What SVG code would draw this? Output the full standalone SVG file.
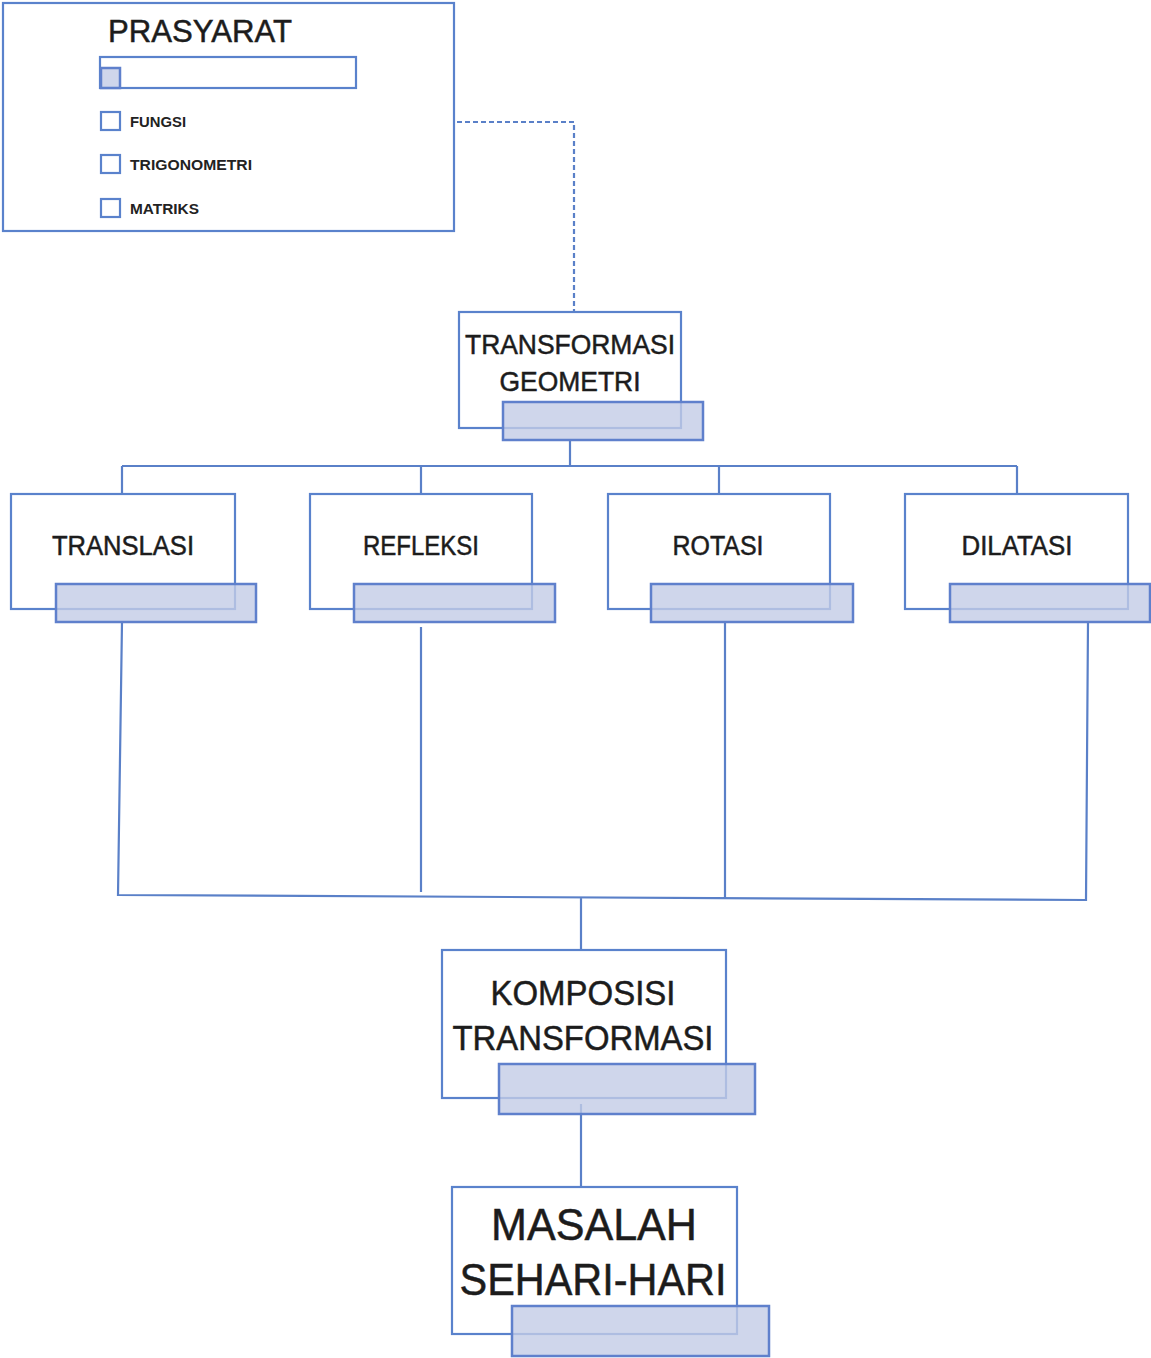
<svg xmlns="http://www.w3.org/2000/svg" width="1151" height="1358" viewBox="0 0 1151 1358">
<style>
.box{fill:#fff;stroke:#5a82cc;stroke-width:2.2}
.ov{fill:#c3cce6;fill-opacity:0.8;stroke:#5f80cc;stroke-width:2.5}
.cb{fill:#fff;stroke:#5a82cc;stroke-width:2.2}
.ln{fill:none;stroke:#5a80c8;stroke-width:2.2}
.t{font-family:"Liberation Sans",Arial,sans-serif;fill:#1c1c1c;text-anchor:middle;stroke:#1c1c1c;stroke-width:0.5}
.s{font-family:"Liberation Sans",Arial,sans-serif;font-weight:bold;fill:#222;font-size:14px}
</style>
<rect width="1151" height="1358" fill="#fff"/>
<g id="connectors">
<path class="ln" d="M457,122 H574 V312" stroke="#3d5fa8" stroke-dasharray="5,3"/>
<path class="ln" d="M570,440 V466" stroke="#3d5fa8" stroke-width="3"/>
<path class="ln" d="M122,466 H1017 M122,466 V494 M421,466 V494 M719,466 V494 M1017,466 V494"/>
<path class="ln" d="M122,622 L118,895 L1086,900 L1088,622 M421,627 V892 M725,622 V898 M581,898 V950"/>
<path class="ln" d="M581,1104 V1187"/>
</g>
<g id="prasyarat">
<rect class="box" x="3" y="3" width="451" height="228"/>
<text class="t" x="200" y="42" font-size="32" textLength="184" lengthAdjust="spacingAndGlyphs">PRASYARAT</text>
<rect class="box" x="100" y="57" width="256" height="31"/>
<rect class="ov" x="101" y="68" width="19" height="20"/>
<rect class="cb" x="101" y="112" width="19" height="18"/>
<text class="s" x="130" y="127" textLength="56" lengthAdjust="spacingAndGlyphs">FUNGSI</text>
<rect class="cb" x="101" y="155" width="19" height="18"/>
<text class="s" x="130" y="170" textLength="122" lengthAdjust="spacingAndGlyphs">TRIGONOMETRI</text>
<rect class="cb" x="101" y="199" width="19" height="18"/>
<text class="s" x="130" y="214" textLength="69" lengthAdjust="spacingAndGlyphs">MATRIKS</text>
</g>
<g id="transformasi-geometri">
<rect class="box" x="459" y="312" width="222" height="116"/>
<text class="t" x="570" y="354" font-size="28" textLength="210" lengthAdjust="spacingAndGlyphs">TRANSFORMASI</text>
<text class="t" x="570" y="391" font-size="28" textLength="141" lengthAdjust="spacingAndGlyphs">GEOMETRI</text>
<rect class="ov" x="503" y="402" width="200" height="38"/>
</g>
<g id="translasi">
<rect class="box" x="11" y="494" width="224" height="115"/>
<text class="t" x="123" y="555" font-size="27" textLength="142" lengthAdjust="spacingAndGlyphs">TRANSLASI</text>
<rect class="ov" x="56" y="584" width="200" height="38"/>
</g>
<g id="refleksi">
<rect class="box" x="310" y="494" width="222" height="115"/>
<text class="t" x="421" y="555" font-size="27" textLength="116" lengthAdjust="spacingAndGlyphs">REFLEKSI</text>
<rect class="ov" x="354" y="584" width="201" height="38"/>
</g>
<g id="rotasi">
<rect class="box" x="608" y="494" width="222" height="115"/>
<text class="t" x="718" y="555" font-size="27" textLength="91" lengthAdjust="spacingAndGlyphs">ROTASI</text>
<rect class="ov" x="651" y="584" width="202" height="38"/>
</g>
<g id="dilatasi">
<rect class="box" x="905" y="494" width="223" height="115"/>
<text class="t" x="1017" y="555" font-size="27" textLength="111" lengthAdjust="spacingAndGlyphs">DILATASI</text>
<rect class="ov" x="950" y="584" width="200" height="38"/>
</g>
<g id="komposisi-transformasi">
<rect class="box" x="442" y="950" width="284" height="148"/>
<text class="t" x="583" y="1005" font-size="35" textLength="185" lengthAdjust="spacingAndGlyphs">KOMPOSISI</text>
<text class="t" x="583" y="1050" font-size="35" textLength="261" lengthAdjust="spacingAndGlyphs">TRANSFORMASI</text>
<rect class="ov" x="499" y="1064" width="256" height="50"/>
</g>
<g id="masalah-sehari-hari">
<rect class="box" x="452" y="1187" width="285" height="147"/>
<text class="t" x="594" y="1240" font-size="44" textLength="206" lengthAdjust="spacingAndGlyphs">MASALAH</text>
<text class="t" x="593" y="1295" font-size="44" textLength="267" lengthAdjust="spacingAndGlyphs">SEHARI-HARI</text>
<rect class="ov" x="512" y="1306" width="257" height="50"/>
</g>
</svg>
